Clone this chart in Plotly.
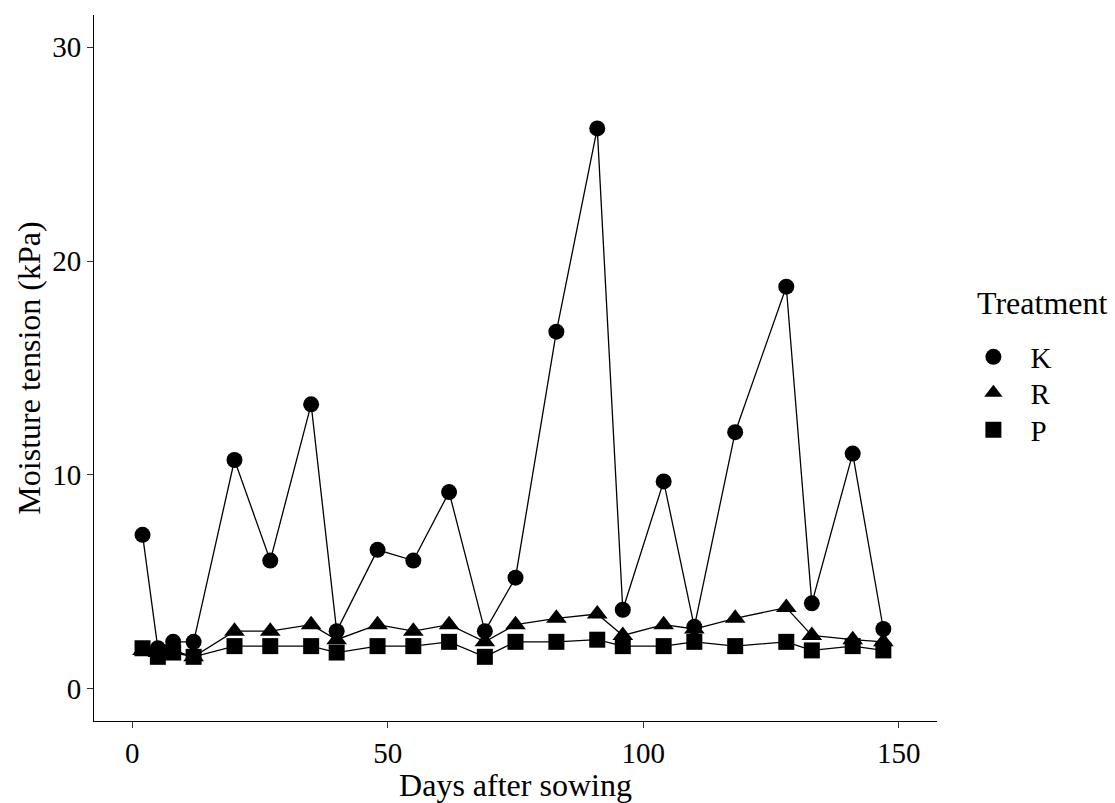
import plotly.graph_objects as go

days = [2, 5, 8, 12, 20, 27, 35, 40, 48, 55, 62, 69, 75, 83, 91, 96, 104, 110, 118, 128, 133, 141, 147]
K = [7.2, 1.9, 2.2, 2.2, 10.7, 6.0, 13.3, 2.7, 6.5, 6.0, 9.2, 2.7, 5.2, 16.7, 26.2, 3.7, 9.7, 2.9, 12.0, 18.8, 4.0, 11.0, 2.8]
R = [1.8, 1.7, 1.8, 1.5, 2.7, 2.7, 3.0, 2.3, 3.0, 2.7, 3.0, 2.2, 3.0, 3.3, 3.5, 2.5, 3.0, 2.8, 3.3, 3.8, 2.5, 2.3, 2.2]
P = [1.9, 1.5, 1.7, 1.5, 2.0, 2.0, 2.0, 1.7, 2.0, 2.0, 2.2, 1.5, 2.2, 2.2, 2.3, 2.0, 2.0, 2.2, 2.0, 2.2, 1.8, 2.0, 1.8]

# name, values, symbol, marker size, legend id, legend centre (px from top)
series = [("K", K, "circle", 16, "legend", 357), ("R", R, "triangle-up", 18, "legend2", 393),
          ("P", P, "square", 16, "legend3", 430)]
x_ticks = [0, 50, 100, 150]
y_ticks = [0, 10, 20, 30]

FONT = "Liberation Serif"
TOP, PLOT_H = 15, 706


def ypaper(px):
    return 1 - (px - TOP) / PLOT_H


fig = go.Figure()

for name, vals, sym, sz, lg, ly in series:
    fig.add_trace(go.Scatter(x=days, y=vals, mode="lines", line=dict(color="black", width=1.3),
                             showlegend=False, hoverinfo="skip"))

for name, vals, sym, sz, lg, ly in [series[1], series[2], series[0]]:
    fig.add_trace(go.Scatter(x=days, y=vals, mode="markers", name=name, legend=lg,
                             marker=dict(symbol=sym, size=sz, color="black", line=dict(width=0))))

fig.add_annotation(text="Treatment", xref="paper", yref="paper", x=1.045, y=ypaper(303),
                   xanchor="left", yanchor="middle", showarrow=False,
                   font=dict(size=32, family=FONT, color="black"))

legend_common = dict(font=dict(size=29, family=FONT, color="black"), x=1.023, xanchor="left",
                     yanchor="middle", itemsizing="trace", itemwidth=64, bgcolor="rgba(0,0,0,0)")
legends = {}
for name, vals, sym, sz, lg, ly in series:
    legends[lg] = dict(legend_common, y=ypaper(ly))

fig.update_layout(
    width=1115, height=803,
    margin=dict(l=94, r=178, t=15, b=82),
    paper_bgcolor="white", plot_bgcolor="white",
    font=dict(family=FONT, color="black", size=29),
    **legends,
    xaxis=dict(range=[-7.5, 157.5], tickvals=x_ticks, showgrid=False, zeroline=False,
               showline=True, linecolor="black", linewidth=1.1, automargin=False,
               ticks="outside", ticklen=6, tickcolor="#333333", tickwidth=1.1,
               tickfont=dict(size=29, family=FONT, color="black"),
               title=dict(text="Days after sowing", font=dict(size=32, family=FONT), standoff=4)),
    yaxis=dict(range=[-1.5, 31.5], tickvals=y_ticks, showgrid=False, zeroline=False,
               showline=True, linecolor="black", linewidth=1.1, automargin=False,
               ticks="outside", ticklen=6, tickcolor="#333333", tickwidth=1.1,
               tickfont=dict(size=29, family=FONT, color="black"),
               title=dict(text="Moisture tension (kPa)", font=dict(size=32, family=FONT), standoff=1)),
)

fig.write_html("out.html")
